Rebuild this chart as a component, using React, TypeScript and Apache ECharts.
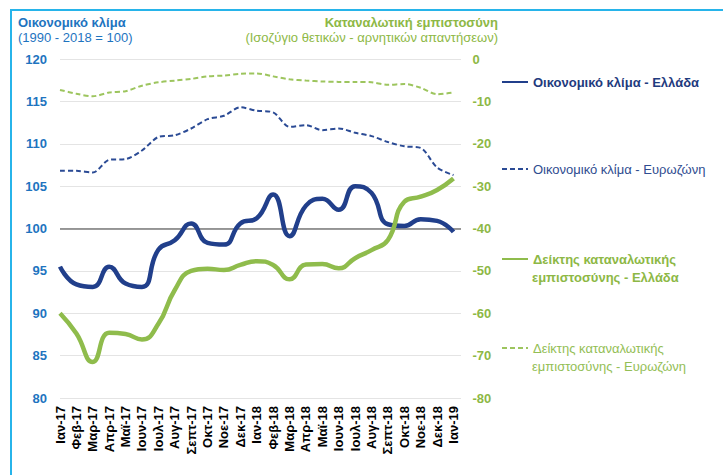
import React, { useEffect, useRef } from "react";
import * as echarts from "echarts";

const months = [
  "Ιαν-17", "Φεβ-17", "Μαρ-17", "Απρ-17", "Μαϊ-17", "Ιουν-17", "Ιουλ-17", "Αυγ-17", "Σεπτ-17", "Οκτ-17", "Νοε-17", "Δεκ-17",
  "Ιαν-18", "Φεβ-18", "Μαρ-18", "Απρ-18", "Μαϊ-18", "Ιουν-18", "Ιουλ-18", "Αυγ-18", "Σεπτ-18", "Οκτ-18", "Νοε-18", "Δεκ-18",
  "Ιαν-19",
];

const climateGreece = [95.5, 93.4, 93.1, 95.5, 93.5, 93.1, 97.5, 98.6, 100.6, 98.3, 98.1, 100.6, 101.2, 104.0, 99.1, 102.7, 103.5, 102.2, 105.0, 104.2, 100.5, 100.3, 101.1, 100.9, 99.6];
const climateEurozone = [106.8, 106.8, 106.6, 108.1, 108.2, 109.2, 110.8, 111.0, 111.8, 112.9, 113.3, 114.3, 113.9, 113.7, 112.0, 112.2, 111.6, 111.8, 111.3, 110.9, 110.2, 109.7, 109.5, 107.2, 106.3];
const consumerGreece = [-60.0, -64.8, -71.5, -64.6, -64.9, -66.2, -62.5, -54.5, -50.0, -49.5, -49.8, -48.6, -47.7, -48.6, -52.0, -48.5, -48.4, -49.4, -47.0, -45.1, -42.7, -33.7, -32.5, -30.9, -28.2];
const consumerEurozone = [-7.3, -8.2, -8.8, -7.9, -7.6, -6.3, -5.5, -5.1, -4.7, -4.1, -3.9, -3.5, -3.4, -4.1, -4.8, -5.1, -5.3, -5.4, -5.4, -5.5, -6.1, -5.9, -6.8, -8.3, -7.9];

const names = [
  "Οικονομικό κλίμα - Ελλάδα",
  "Οικονομικό κλίμα - Ευρωζώνη",
  "Δείκτης καταναλωτικής εμπιστοσύνης - Ελλάδα",
  "Δείκτης καταναλωτικής εμπιστοσύνης - Ευρωζώνη",
];

const FONT = "'Liberation Sans', Arial, sans-serif";
const BLUE_TXT = "#1E74BF";
const GREEN_TXT = "#8DB845";
const NAVY = "#213F8B";
const NAVY2 = "#2B4B95";
const GREEN = "#8FBC4C";
const GREEN2 = "#9DC55E";
const GREEN_LEG2 = "#93BE55";

const firstLine = (name: string) => name.slice(0, name.indexOf(" εμπιστοσύνης"));
const secondLine = (name: string) => name.slice(name.indexOf(" εμπιστοσύνης") + 1);

export default function App() {
  const ref = useRef<HTMLDivElement>(null);
  useEffect(() => {
    if (!ref.current) return;
    const chart = echarts.init(ref.current, null, { renderer: "svg" });
    const legendBase = {
      orient: "vertical",
      padding: 0,
      itemWidth: 26,
      itemHeight: 14,
      selectedMode: false,
      itemStyle: { color: "rgba(0,0,0,0)", borderColor: "rgba(0,0,0,0)", borderWidth: 0, opacity: 0 },
    };
    chart.setOption({
      animation: false,
      backgroundColor: "#ffffff",
      textStyle: { fontFamily: FONT },
      title: [
        {
          text: "Οικονομικό κλίμα",
          subtext: "(1990 - 2018 = 100)",
          left: 18,
          top: 15,
          padding: 0,
          itemGap: 0,
          textStyle: { fontFamily: FONT, fontSize: 13, fontWeight: "bold", color: BLUE_TXT, lineHeight: 15 },
          subtextStyle: { fontFamily: FONT, fontSize: 13, color: BLUE_TXT, lineHeight: 15 },
        },
        {
          text: "Καταναλωτική εμπιστοσύνη",
          right: 225,
          top: 15,
          padding: 0,
          textStyle: { fontFamily: FONT, fontSize: 13, fontWeight: "bold", color: GREEN_TXT, lineHeight: 15 },
        },
        {
          text: "(Ισοζύγιο θετικών - αρνητικών απαντήσεων)",
          right: 225,
          top: 30,
          padding: 0,
          textStyle: { fontFamily: FONT, fontSize: 13, fontWeight: "normal", color: GREEN_TXT, lineHeight: 15 },
        },
      ],
      legend: [
        {
          ...legendBase,
          left: 501,
          top: 75,
          data: [names[0]],
          textStyle: { fontFamily: FONT, fontSize: 13, fontWeight: "bold", color: "#1F3B7E", lineHeight: 14 },
        },
        {
          ...legendBase,
          left: 501,
          top: 162,
          data: [names[1]],
          textStyle: { fontFamily: FONT, fontSize: 13, color: "#2F4C90", lineHeight: 14 },
        },
        {
          ...legendBase,
          left: 501,
          top: 252,
          data: [names[2]],
          formatter: firstLine,
          textStyle: { fontFamily: FONT, fontSize: 13, fontWeight: "bold", color: GREEN_TXT, lineHeight: 14 },
        },
        {
          ...legendBase,
          left: 501,
          top: 341,
          data: [names[3]],
          formatter: firstLine,
          textStyle: { fontFamily: FONT, fontSize: 13, color: GREEN_LEG2, lineHeight: 14 },
        },
      ],
      grid: [
        { left: 60, top: 59, right: 269.5, bottom: 77 },
        { left: 60, top: 59, right: 262, bottom: 77 },
      ],
      xAxis: [
        {
          gridIndex: 0,
          type: "category",
          data: months,
          boundaryGap: false,
          axisLine: { show: false },
          axisTick: { show: false },
          axisLabel: { interval: 0, rotate: 90, margin: 8, fontFamily: FONT, fontSize: 13, fontWeight: "bold", color: "#000000" },
          splitLine: { show: false },
        },
        {
          gridIndex: 1,
          type: "category",
          data: months,
          boundaryGap: false,
          show: false,
        },
      ],
      yAxis: [
        {
          gridIndex: 0,
          type: "value",
          position: "left",
          min: 80,
          max: 120,
          interval: 5,
          axisLine: { show: false },
          axisTick: { show: false },
          splitLine: { show: false },
          axisLabel: { margin: 13, fontFamily: FONT, fontSize: 13, fontWeight: "bold", color: BLUE_TXT },
        },
        {
          gridIndex: 0,
          type: "value",
          position: "right",
          min: -80,
          max: 0,
          interval: 10,
          axisLine: { show: false },
          axisTick: { show: false },
          splitLine: { show: false },
          axisLabel: { margin: 19, fontFamily: FONT, fontSize: 13, fontWeight: "bold", color: GREEN_TXT },
        },
        {
          gridIndex: 1,
          type: "value",
          min: 80,
          max: 120,
          interval: 5,
          axisLine: { show: false },
          axisTick: { show: false },
          axisLabel: { show: false },
          splitLine: { show: true, lineStyle: { color: "#E4E4E4", width: 1 } },
        },
        {
          gridIndex: 1,
          type: "value",
          min: 80,
          max: 120,
          interval: 20,
          axisLine: { show: false },
          axisTick: { show: false },
          axisLabel: { show: false },
          splitLine: { show: true, lineStyle: { color: ["rgba(0,0,0,0)", "#7A7A7A", "rgba(0,0,0,0)"], width: 1.5 } },
        },
      ],
      series: [
        {
          name: names[0],
          type: "line",
          xAxisIndex: 0,
          yAxisIndex: 0,
          data: climateGreece,
          smooth: 0.5,
          symbol: "none",
          color: NAVY,
          lineStyle: { color: NAVY, width: 4.5 },
          z: 4,
        },
        {
          name: names[1],
          type: "line",
          xAxisIndex: 0,
          yAxisIndex: 0,
          data: climateEurozone,
          smooth: 0.3,
          symbol: "none",
          color: NAVY2,
          lineStyle: { color: NAVY2, width: 2, type: [5, 3] },
          z: 3,
        },
        {
          name: names[2],
          type: "line",
          xAxisIndex: 0,
          yAxisIndex: 1,
          data: consumerGreece,
          smooth: 0.5,
          symbol: "none",
          color: GREEN,
          lineStyle: { color: GREEN, width: 4.5 },
          z: 5,
        },
        {
          name: names[3],
          type: "line",
          xAxisIndex: 0,
          yAxisIndex: 1,
          data: consumerEurozone,
          smooth: 0.3,
          symbol: "none",
          color: GREEN2,
          lineStyle: { color: GREEN2, width: 2, type: [5, 3] },
          z: 3,
        },
      ],
      graphic: [
        {
          type: "rect",
          silent: true,
          shape: { x: 11, y: 10, width: 760, height: 520 },
          style: { fill: "none", stroke: "#27B4EA", lineWidth: 2 },
          z: -1,
        },
        {
          type: "text",
          silent: true,
          x: 532,
          y: 277,
          style: {
            text: secondLine(names[2]),
            fontFamily: FONT,
            fontSize: 13,
            fontWeight: "bold",
            fill: GREEN_TXT,
            verticalAlign: "middle",
          },
        },
        {
          type: "text",
          silent: true,
          x: 532,
          y: 366,
          style: {
            text: secondLine(names[3]),
            fontFamily: FONT,
            fontSize: 13,
            fill: GREEN_LEG2,
            verticalAlign: "middle",
          },
        },
      ],
    });
    return () => chart.dispose();
  }, []);
  return (
    <div
      ref={ref}
      style={{ position: "fixed", left: 0, top: 0, width: 723, height: 475, background: "#fff" }}
    />
  );
}
